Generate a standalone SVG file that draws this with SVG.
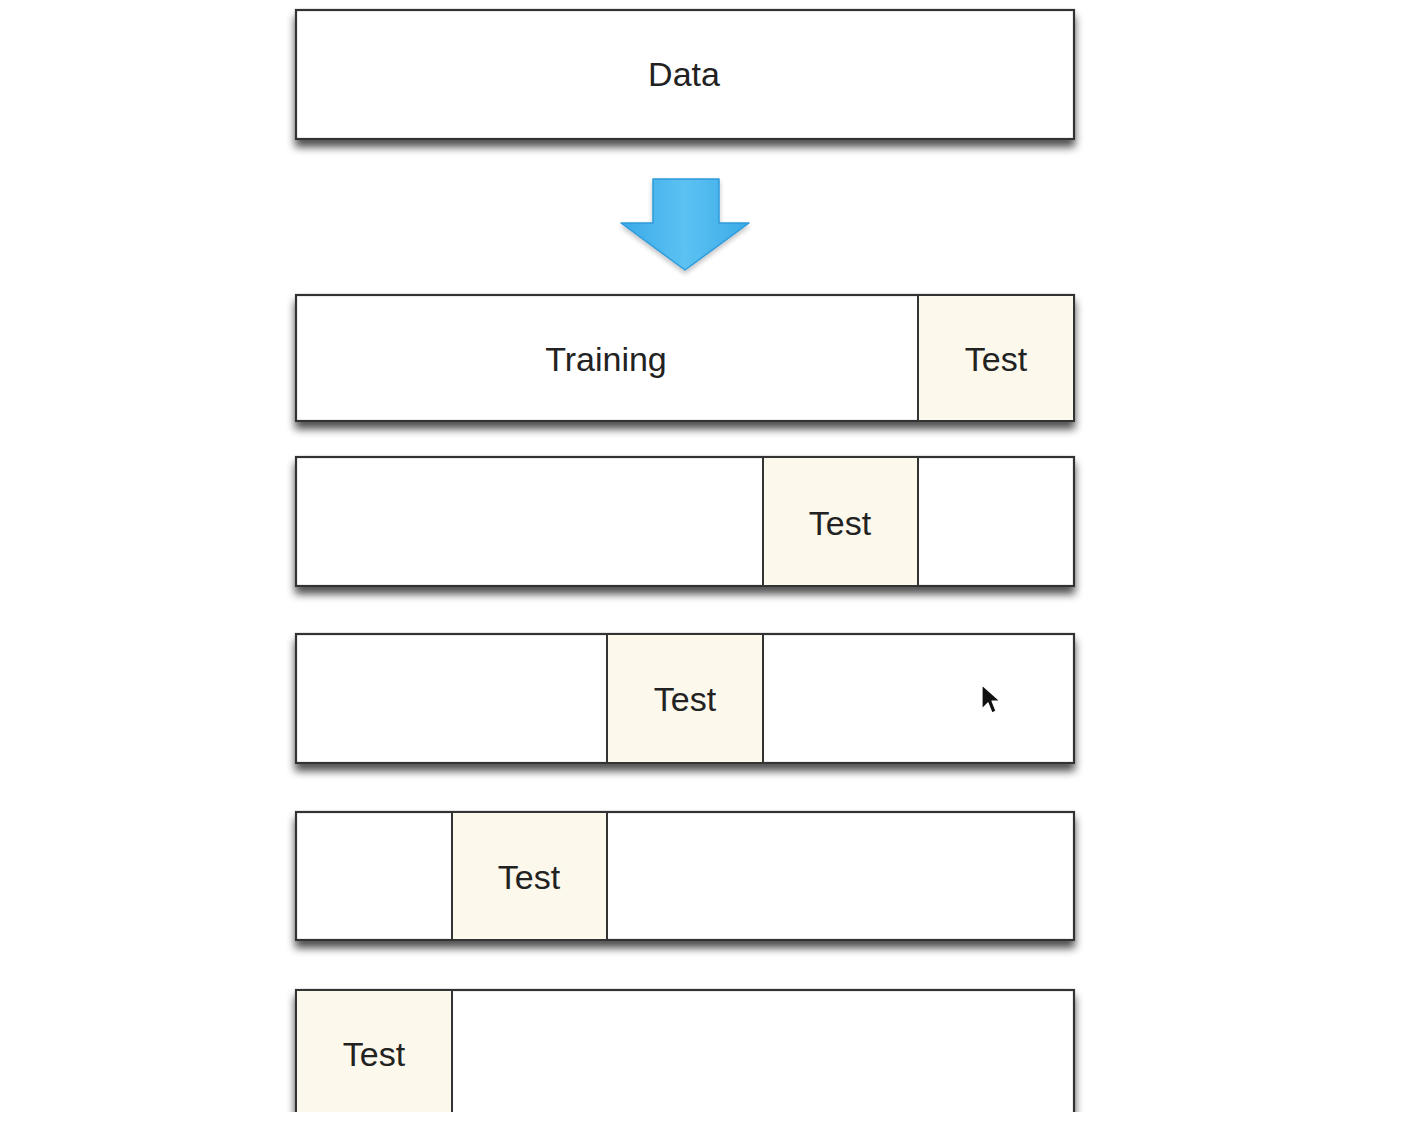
<svg xmlns="http://www.w3.org/2000/svg" width="1419" height="1128" viewBox="0 0 1419 1128">
  <style>
    .box { fill: #ffffff; stroke: #333333; stroke-width: 2.2; }
    .test { fill: #fcf8ec; stroke: #333333; stroke-width: 2; }
    .label { font-family: "Liberation Sans", Arial, sans-serif; font-size: 34px; fill: #222222; text-anchor: middle; }
  </style>
  <defs>
    <filter id="drop" x="-5%" y="-20%" width="110%" height="150%">
      <feGaussianBlur in="SourceAlpha" stdDeviation="4"/>
      <feOffset dx="0" dy="7" result="b"/>
      <feComponentTransfer in="b" result="s">
        <feFuncA type="linear" slope="0.7"/>
      </feComponentTransfer>
      <feMerge><feMergeNode in="s"/><feMergeNode in="SourceGraphic"/></feMerge>
    </filter>
    <filter id="arrowShadow" x="-20%" y="-20%" width="140%" height="150%">
      <feGaussianBlur in="SourceAlpha" stdDeviation="2.5"/>
      <feOffset dx="0" dy="3" result="b"/>
      <feComponentTransfer in="b" result="s">
        <feFuncA type="linear" slope="0.25"/>
      </feComponentTransfer>
      <feMerge><feMergeNode in="s"/><feMergeNode in="SourceGraphic"/></feMerge>
    </filter>
    <linearGradient id="blue" x1="0" y1="0" x2="1" y2="0">
      <stop offset="0" stop-color="#3aaae8"/>
      <stop offset="0.5" stop-color="#5cc2f2"/>
      <stop offset="1" stop-color="#3aaae8"/>
    </linearGradient>
  </defs>

  <rect width="1419" height="1128" fill="#ffffff"/>

  <!-- source data -->
  <g id="data">
    <rect class="box" x="296" y="10" width="778" height="129" filter="url(#drop)"/>
    <text class="label" x="684" y="86">Data</text>
  </g>

  <!-- split arrow -->
  <g id="connectors">
    <path d="M653,179 H719 V223 H749 L685,270 L621,223 H653 Z" fill="url(#blue)" stroke="#2f9bd9" stroke-width="1.5" stroke-linejoin="round" filter="url(#arrowShadow)"/>
  </g>

  <!-- fold 1 -->
  <g id="fold1">
    <rect class="box" x="296" y="295" width="778" height="126" filter="url(#drop)"/>
    <rect class="test" x="918" y="295" width="156" height="126"/>
    <text class="label" x="606" y="371">Training</text>
    <text class="label" x="996" y="371">Test</text>
  </g>

  <!-- fold 2 -->
  <g id="fold2">
    <rect class="box" x="296" y="457" width="778" height="129" filter="url(#drop)"/>
    <rect class="test" x="763" y="457" width="155" height="129"/>
    <text class="label" x="840" y="535">Test</text>
  </g>

  <!-- fold 3 -->
  <g id="fold3">
    <rect class="box" x="296" y="634" width="778" height="129" filter="url(#drop)"/>
    <rect class="test" x="607" y="634" width="156" height="129"/>
    <text class="label" x="685" y="711">Test</text>
  </g>

  <!-- fold 4 -->
  <g id="fold4">
    <rect class="box" x="296" y="812" width="778" height="128" filter="url(#drop)"/>
    <rect class="test" x="452" y="812" width="155" height="128"/>
    <text class="label" x="529" y="889">Test</text>
  </g>

  <!-- fold 5 -->
  <g id="fold5">
    <rect class="box" x="296" y="990" width="778" height="140" filter="url(#drop)"/>
    <rect class="test" x="296" y="990" width="156" height="140"/>
    <text class="label" x="374" y="1066">Test</text>
  </g>

  <!-- bottom margin -->
  <rect x="0" y="1112" width="1419" height="16" fill="#ffffff"/>

  <!-- mouse pointer -->
  <g id="pointer">
    <path d="M982,685 L982,709 L988,703 L992,713 L996,711 L992,701 L1000,701 Z" fill="#111111" stroke="#ffffff" stroke-width="1.2" stroke-linejoin="round"/>
  </g>
</svg>
